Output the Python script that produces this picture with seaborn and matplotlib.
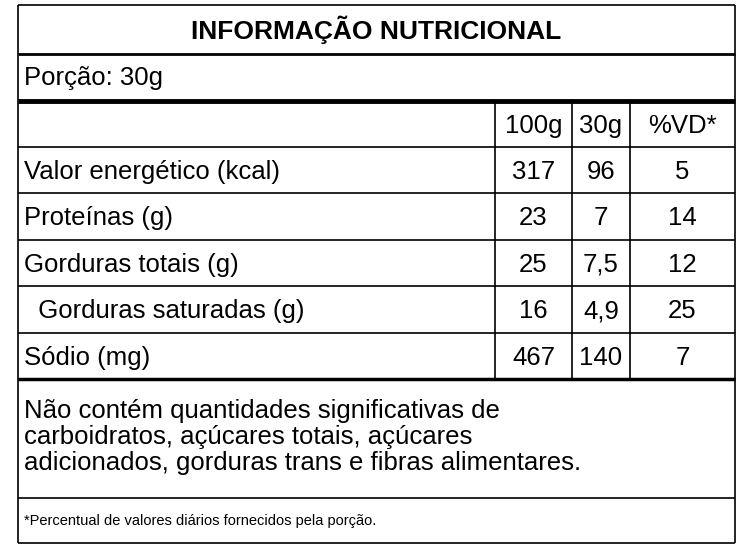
import matplotlib.pyplot as plt
import seaborn as sns

title = "INFORMAÇÃO NUTRICIONAL"
portion = "Porção: 30g"
columns = ["100g", "30g", "%VD*"]
nutrients = ["Valor energético (kcal)", "Proteínas (g)", "Gorduras totais (g)",
             "  Gorduras saturadas (g)", "Sódio (mg)"]
per_100g = ["317", "23", "25", "16", "467"]
per_30g = ["96", "7", "7,5", "4,9", "140"]
vd = ["5", "14", "12", "25", "7"]
note = ("Não contém quantidades significativas de\n"
        "carboidratos, açúcares totais, açúcares\n"
        "adicionados, gorduras trans e fibras alimentares.")
footnote = "*Percentual de valores diários fornecidos pela porção."

sns.set_theme(style="white")
plt.rcParams['font.family'] = ['Liberation Sans', 'DejaVu Sans']
plt.rcParams['text.color'] = 'black'

fig = plt.figure(figsize=(7.5, 5.5), dpi=100)
ax = fig.add_axes([0, 0, 1, 1])
ax.set_xlim(0, 750)
ax.set_ylim(550, 0)
ax.axis("off")

L, R = 18, 735
col_x = [495, 572, 630, R]  # column edges
row_top = 100
row_h = 46.5
FS = 18.5

def hline(y, lw=1.2, x0=L, x1=R):
    ax.plot([x0, x1], [y, y], color="black", lw=lw, solid_capstyle="butt")

def vline(x, y0, y1, lw=1.2):
    ax.plot([x, x], [y0, y1], color="black", lw=lw, solid_capstyle="butt")

# outer border
hline(5); hline(543)
vline(L, 5, 543); vline(R, 5, 543)

ax.text((L + R) / 2, 30, title, ha="center", va="center", fontsize=19, fontweight="bold")
hline(54, lw=2)
ax.text(L + 6, 78, portion, ha="left", va="center", fontsize=FS)
hline(101, lw=3.5)

n_rows = len(nutrients) + 1
bottom = row_top + n_rows * row_h
for i in range(1, n_rows):
    hline(row_top + i * row_h)
for x in col_x[:-1]:
    vline(x, row_top, bottom)

centers = [(col_x[j] + col_x[j + 1]) / 2 for j in range(3)]
for j, c in enumerate(columns):
    ax.text(centers[j], row_top + row_h / 2 + 3, c, ha="center", va="center", fontsize=FS)

for i, name in enumerate(nutrients):
    y = row_top + (i + 1.5) * row_h + 2
    ax.text(L + 6, y, name, ha="left", va="center", fontsize=FS)
    for j, v in enumerate([per_100g[i], per_30g[i], vd[i]]):
        ax.text(centers[j], y, v, ha="center", va="center", fontsize=FS)

hline(bottom, lw=2.5)
ax.text(L + 6, bottom + 58, note, ha="left", va="center", fontsize=FS, linespacing=1.12)
hline(498)
ax.text(L + 6, 521, footnote, ha="left", va="center", fontsize=10.5)

fig.savefig("out.png", dpi=100, facecolor="white")
